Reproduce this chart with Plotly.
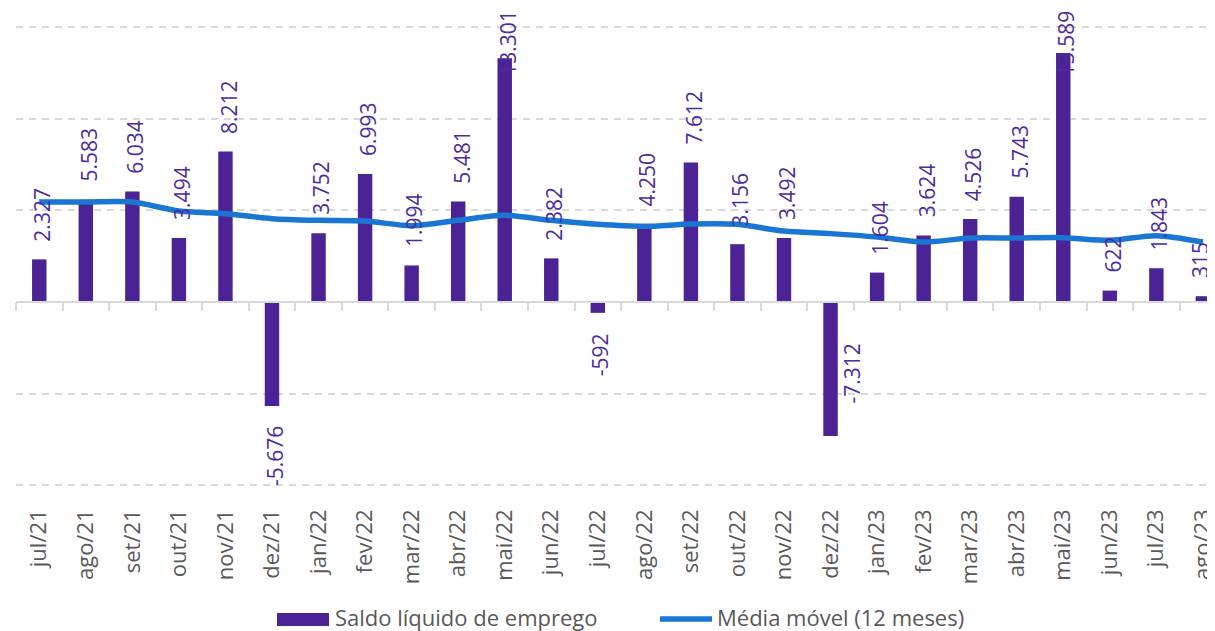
import plotly.graph_objects as go

months = ["jul/21", "ago/21", "set/21", "out/21", "nov/21", "dez/21", "jan/22", "fev/22",
          "mar/22", "abr/22", "mai/22", "jun/22", "jul/22", "ago/22", "set/22", "out/22",
          "nov/22", "dez/22", "jan/23", "fev/23", "mar/23", "abr/23", "mai/23", "jun/23",
          "jul/23", "ago/23"]
saldo = [2327, 5583, 6034, 3494, 8212, -5676, 3752, 6993, 1994, 5481, 13301, 2382,
         -592, 4250, 7612, 3156, 3492, -7312, 1604, 3624, 4526, 5743, 13589, 622, 1843, 315]
media_movel = [5455, 5455, 5455, 4965, 4823, 4550, 4457, 4419, 4168, 4457, 4730, 4457,
               4239, 4130, 4255, 4239, 3874, 3732, 3546, 3273, 3492, 3492, 3513, 3366,
               3622, 3273]

BAR_COLOR = "#4B2394"
LINE_COLOR = "#1976D2"
LABEL_COLOR = "#4B2C9C"
GRID = "#D9D9D9"
TEXT_GRAY = "#595959"
FONT = "Open Sans"

# page has an 8px body margin; the figure is sized so it ends at the window edge
OFF = 8
W, H = 1215 - OFF, 631 - OFF
Y_MIN, Y_MAX = -10100, 16050
ML, MR, MT, MB = 8, 0, 0, 144
plot_h = H - MT - MB
plot_w = W - ML - MR
px_per_unit = plot_h / (Y_MAX - Y_MIN)

def fmt(v):
    s = f"{abs(v):,}".replace(",", ".")
    return ("-" if v < 0 else "") + s

fig = go.Figure()
fig.add_trace(go.Bar(x=months, y=saldo, name="Saldo líquido de emprego",
                     marker=dict(color=BAR_COLOR, line=dict(width=0)),
                     width=0.31, showlegend=False, hoverinfo="x+y"))
fig.add_trace(go.Scatter(x=months, y=media_movel, name="Média móvel (12 meses)",
                         mode="lines", line=dict(color=LINE_COLOR, width=5.5, shape="spline", smoothing=0.8),
                         showlegend=False))
# helper trace for the category axis drawn at zero
fig.add_trace(go.Scatter(x=months, y=[None] * len(months), xaxis="x2", mode="markers",
                         showlegend=False, hoverinfo="skip"))

annotations = []
label_len_px = 64
POS_SHIFT = 16
for i, (m, v) in enumerate(zip(months, saldo)):
    txt = fmt(v)
    xs = 3 if i < len(months) - 1 else -3
    if m == "dez/22":
        annotations.append(dict(x=m, y=v, xref="x", yref="y", text=txt, textangle=-90,
                                showarrow=False, yanchor="bottom", xanchor="center",
                                xshift=21, yshift=30))
        continue
    if v >= 0:
        top_px = v * px_per_unit + POS_SHIFT + label_len_px
        if Y_MAX * px_per_unit < top_px:
            annotations.append(dict(x=m, y=1, xref="x", yref="paper", text=txt, textangle=-90,
                                    showarrow=False, yanchor="top", xanchor="center",
                                    xshift=xs, yshift=0))
        else:
            annotations.append(dict(x=m, y=v, xref="x", yref="y", text=txt, textangle=-90,
                                    showarrow=False, yanchor="bottom", xanchor="center",
                                    xshift=xs, yshift=POS_SHIFT))
    else:
        annotations.append(dict(x=m, y=v, xref="x", yref="y", text=txt, textangle=-90,
                                showarrow=False, yanchor="top", xanchor="center",
                                xshift=xs, yshift=-18))
for a in annotations:
    a["font"] = dict(family=FONT, size=21, color=LABEL_COLOR)

# legend (drawn manually to mimic the wide symbols); positions in page pixels
def px2paper_x(px):
    return (px - OFF - ML) / plot_w

def px2paper_y(py):
    return (H - MB - (py - OFF)) / plot_h

shapes = [
    dict(type="rect", xref="paper", yref="paper",
         x0=px2paper_x(277), x1=px2paper_x(329), y0=px2paper_y(626), y1=px2paper_y(613),
         fillcolor=BAR_COLOR, line=dict(width=0)),
    dict(type="line", xref="paper", yref="paper",
         x0=px2paper_x(660), x1=px2paper_x(712), y0=px2paper_y(619), y1=px2paper_y(619),
         line=dict(color=LINE_COLOR, width=5.5)),
]
annotations.append(dict(x=px2paper_x(333), y=px2paper_y(617), xref="paper", yref="paper",
                        text="Saldo líquido de emprego", showarrow=False, xanchor="left",
                        yanchor="middle", font=dict(family=FONT, size=22, color=TEXT_GRAY)))
annotations.append(dict(x=px2paper_x(715), y=px2paper_y(617), xref="paper", yref="paper",
                        text="Média móvel (12 meses)", showarrow=False, xanchor="left",
                        yanchor="middle", font=dict(family=FONT, size=22, color=TEXT_GRAY)))

zero_pos = (0 - Y_MIN) / (Y_MAX - Y_MIN)
x_range = [-0.5, 25.26]

fig.update_layout(
    width=W, height=H,
    margin=dict(l=ML, r=MR, t=MT, b=MB, pad=0),
    plot_bgcolor="white", paper_bgcolor="white",
    xaxis=dict(type="category", categoryorder="array", categoryarray=months, range=x_range,
               showline=False, showgrid=False, ticks="", tickangle=-90,
               tickfont=dict(family=FONT, size=22, color=TEXT_GRAY),
               ticklabelstandoff=17),
    xaxis2=dict(type="category", categoryorder="array", categoryarray=months, range=x_range,
                overlaying="x", anchor="free", position=zero_pos, side="bottom",
                showline=True, linecolor=GRID, linewidth=2, ticks="outside",
                tickson="boundaries", ticklen=8, tickwidth=2, tickcolor=GRID,
                showticklabels=False, showgrid=False),
    yaxis=dict(range=[Y_MIN, Y_MAX], dtick=5000, tick0=0, showticklabels=False,
               showgrid=True, gridcolor=GRID, gridwidth=1.5, griddash="7px,6px",
               zeroline=False, showline=False),
    annotations=annotations,
    shapes=shapes,
    showlegend=False,
)

fig.write_html("out.html")
